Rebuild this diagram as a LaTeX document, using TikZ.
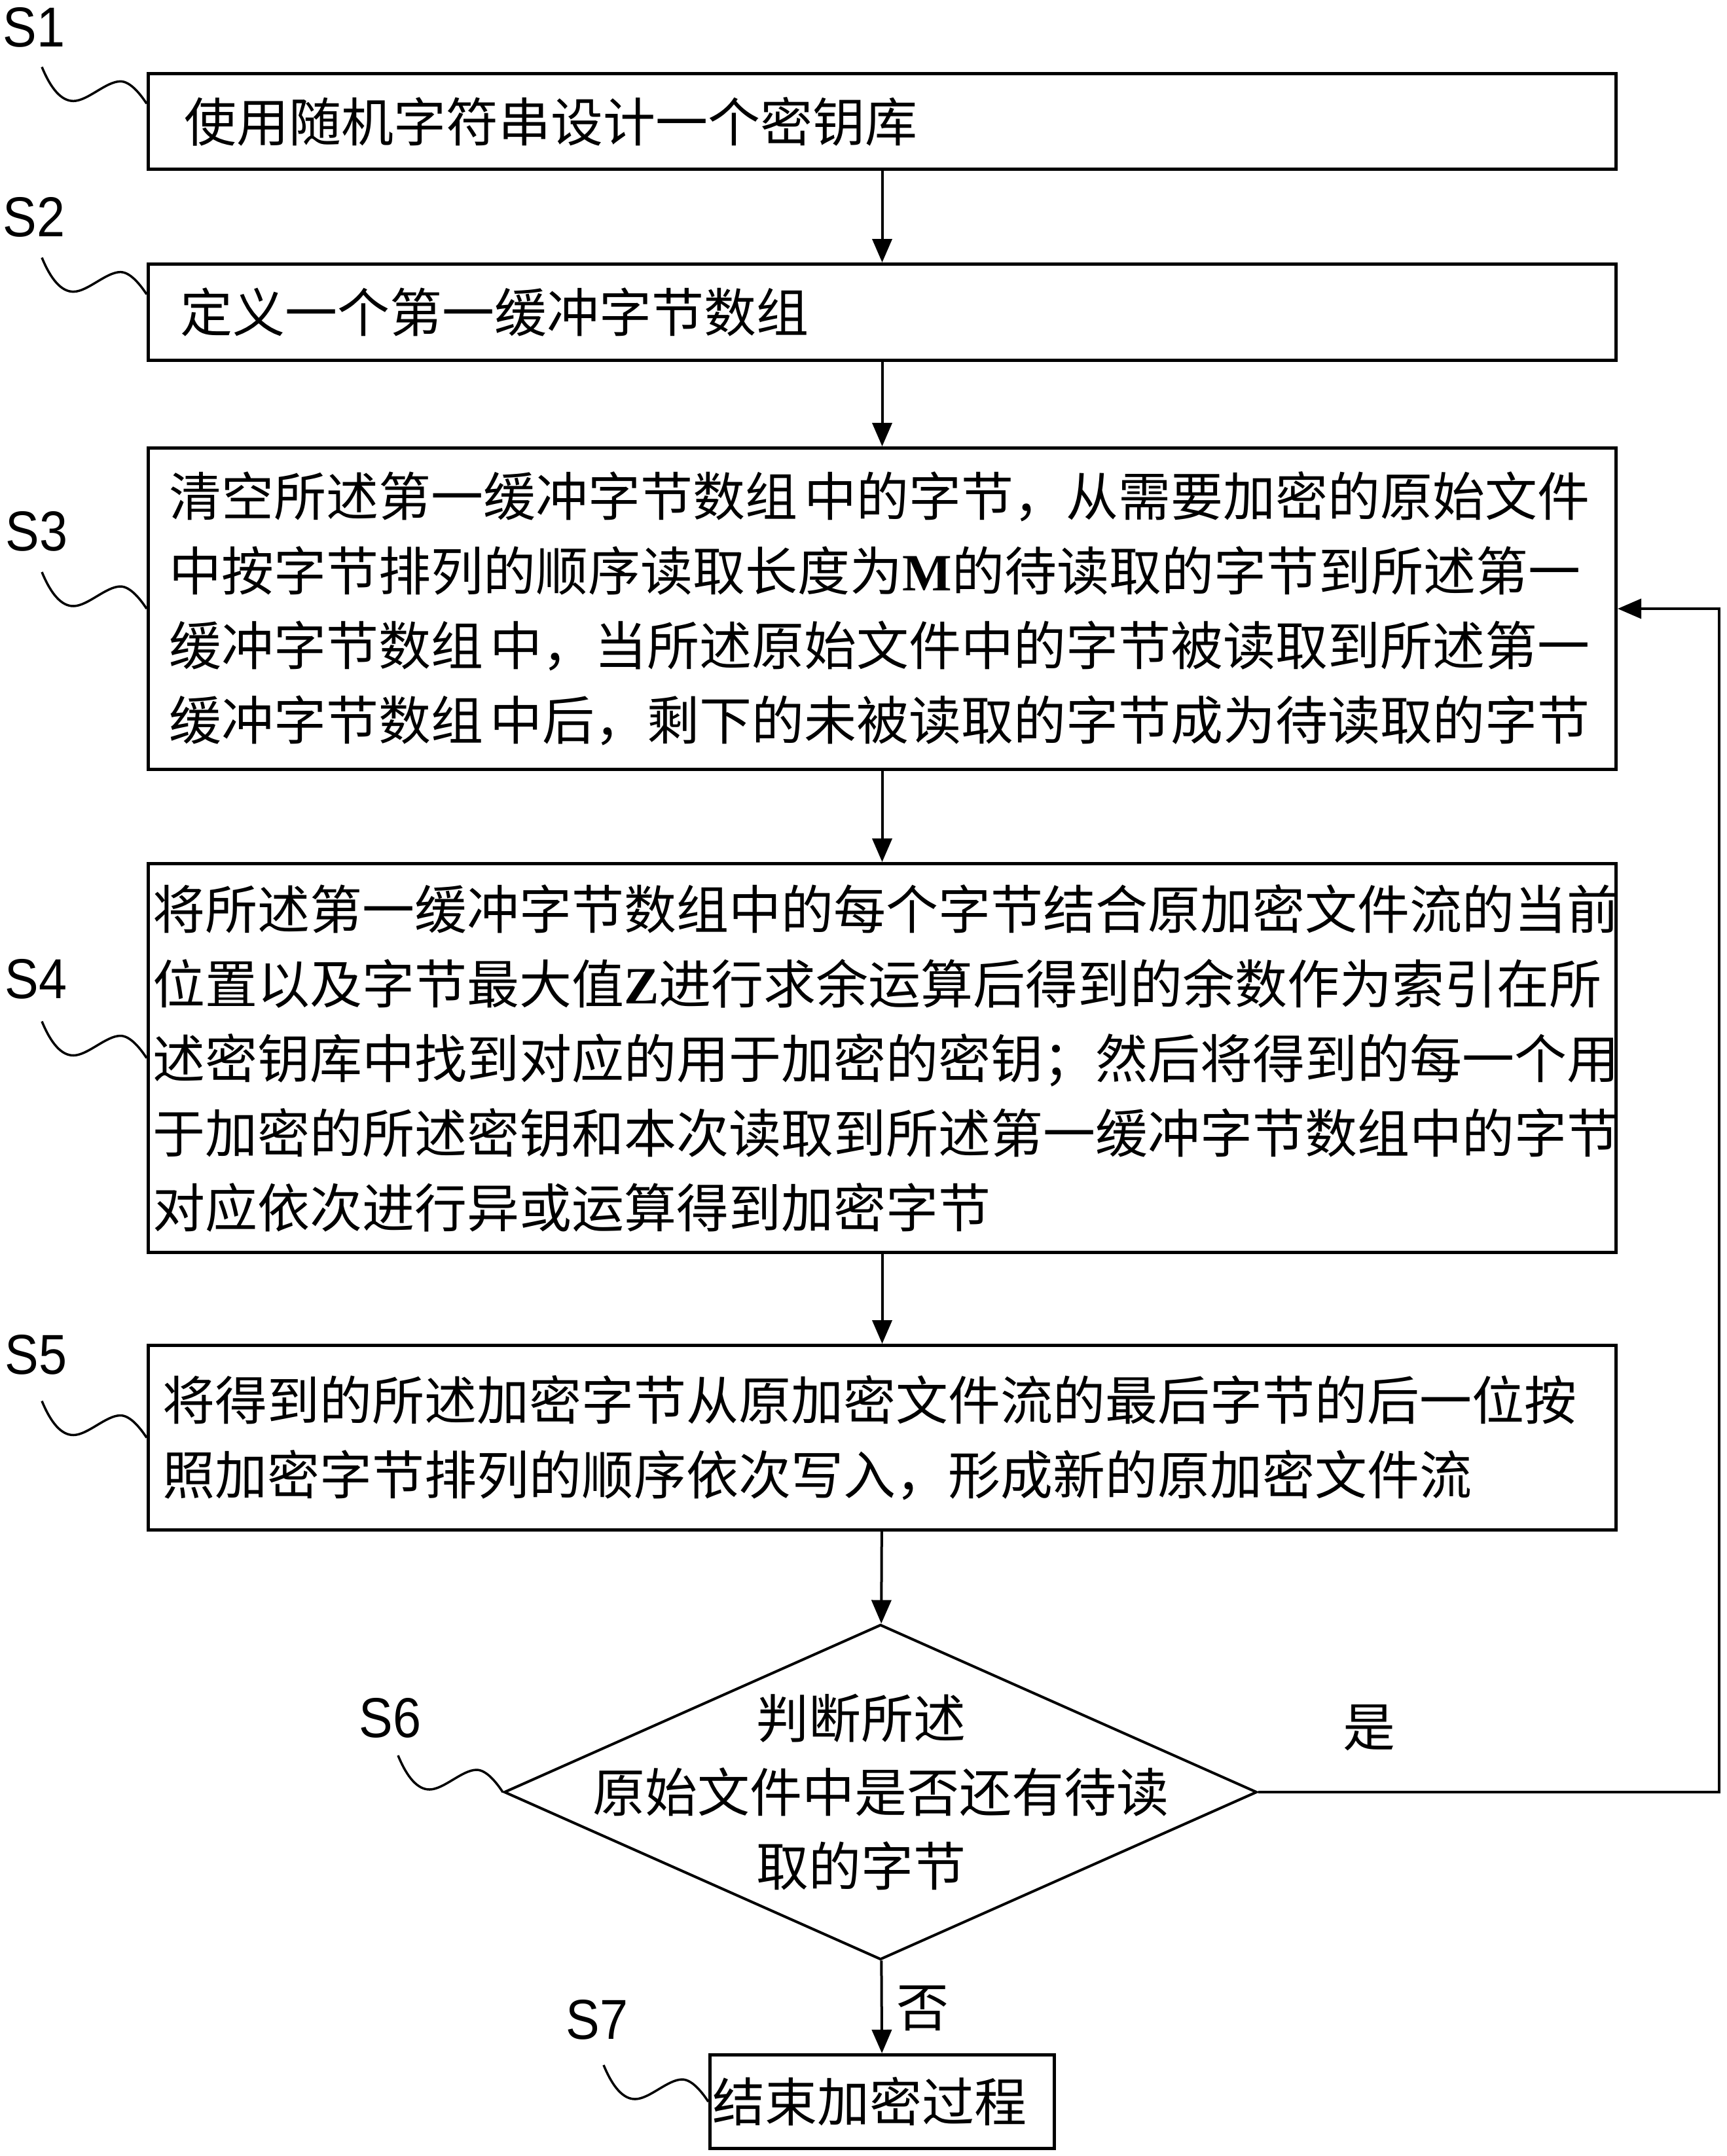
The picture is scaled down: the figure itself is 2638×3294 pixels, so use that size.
\documentclass[tikz,border=0pt]{standalone}
\usepackage{fontspec}
\setmainfont{Noto Sans CJK SC}
\newfontfamily\cnfont{Noto Sans CJK SC}
\newfontfamily\latf{Liberation Serif}
\newfontfamily\labf{Liberation Sans}[FakeStretch=0.9]
\usetikzlibrary{shapes.geometric,arrows.meta,calc}
\newcommand\bt[1]{{\latf\bfseries #1}}
\newcommand\gp{\hspace{10pt}}
\newcommand\squig[1]{\draw[sq] ($(#1)+(-160,-56)$) .. controls +(14,34) and +(-18,0) .. ++(48,52) .. controls +(22,0) and +(-22,0) .. ++(72,-30) .. controls +(16,0) and +(-8,-12) .. (#1);}
\tikzset{
  box/.style={draw, line width=5pt, anchor=north west, align=left, inner ysep=0pt,
    font=\cnfont\fontsize{80pt}{114pt}\selectfont},
  arr/.style={line width=4pt, -{Triangle[length=36pt,width=30pt]}},
  sq/.style={line width=3.5pt},
  lab/.style={font=\labf\fontsize{86pt}{86pt}\selectfont, inner sep=0pt},
  cn/.style={font=\cnfont\fontsize{80pt}{113pt}\selectfont, inner sep=0pt},
}
\begin{document}
\begin{tikzpicture}[x=1pt,y=-1pt]
\fill[white] (0,0) rectangle (2638,3294);
\useasboundingbox (0,0) rectangle (2638,3294);

\node[box, text width=2132pt, inner xsep=55pt, minimum height=146pt] (s1) at (224,110) {使用随机字符串设计一个密钥库};
\node[box, text width=2144pt, inner xsep=49pt, minimum height=147pt] (s2) at (224,401) {定义一个第一缓冲字节数组};
\node[box, text width=2178pt, inner xsep=32pt, minimum height=491pt] (s3) at (224,682) {清空所述第一缓冲字节数组\gp 中的字节，从需要加密的原始文件\\
中按字节排列的顺序读取长度为\bt{M}的待读取的字节到所述第一\\
缓冲字节数组\gp 中，当所述原始文件中的字节被读取到所述第一\\
缓冲字节数组\gp 中后，剩下的未被读取的字节成为待读取的字节};
\node[box, text width=2228pt, inner xsep=7pt, minimum height=594pt] (s4) at (224,1317) {将所述第一缓冲字节数组中的每个字节结合原加密文件流的当前\\
位置以及字节最大值\bt{Z}进行求余运算后得到的余数作为索引在所\\
述密钥库中找到对应的用于加密的密钥；然后将得到的每一个用\\
于加密的所述密钥和本次读取到所述第一缓冲字节数组中的字节\\
对应依次进行异或运算得到加密字节};
\node[box, text width=2198pt, inner xsep=22pt, minimum height=282pt] (s5) at (224,2053) {将得到的所述加密字节从原加密文件流的最后字节的后一位按\\
照加密字节排列的顺序依次写入，形成新的原加密文件流};
\node[diamond, draw, line width=4pt, minimum width=1150pt, minimum height=512pt, inner sep=0pt] (d) at (1345,2738) {};
\node[cn, align=center] (dt) at (d.center) {判断所述\hspace*{60pt}\\原始文件中是否还有待读\\取的字节\hspace*{60pt}};
\node[box, text width=518pt, inner xsep=4pt, minimum height=143pt] (s7) at (1082,3137) {结束加密过程};

% step labels
\node[lab] (l1) at (52,42) {S1};
\node[lab] (l2) at (52,332) {S2};
\node[lab] (l3) at (56,812) {S3};
\node[lab] (l4) at (55,1496) {S4};
\node[lab] (l5) at (55,2070) {S5};
\node[lab] (l6) at (596,2625) {S6};
\node[lab] (l7) at (912,3086) {S7};

% squiggle ends
\coordinate (e1) at ($(s1.north west)!0.32!(s1.south west)$);
\coordinate (e2) at ($(s2.north west)!0.32!(s2.south west)$);
\coordinate (e3) at (s3.west);
\coordinate (e4) at (s4.west);
\coordinate (e5) at (s5.west);
\coordinate (e6) at (d.west);
\coordinate (e7) at (s7.west);
\squig{e1}\squig{e2}\squig{e3}\squig{e4}\squig{e5}\squig{e6}\squig{e7}

% connectors
\draw[arr] (s1) -- (s2);
\draw[arr] (s2) -- (s3);
\draw[arr] (s3) -- (s4);
\draw[arr] (s4) -- (s5);
\draw[arr] (s5) -- (d);
\draw[arr] (d) -- (s7);
\coordinate (fb) at (2626,2738);
\draw[arr] (d.east) -- (fb) |- (s3.east);

\node[cn] (yes) at (2091,2640) {是};
\node[cn] (no) at (1409,3068) {否};
\end{tikzpicture}
\end{document}
